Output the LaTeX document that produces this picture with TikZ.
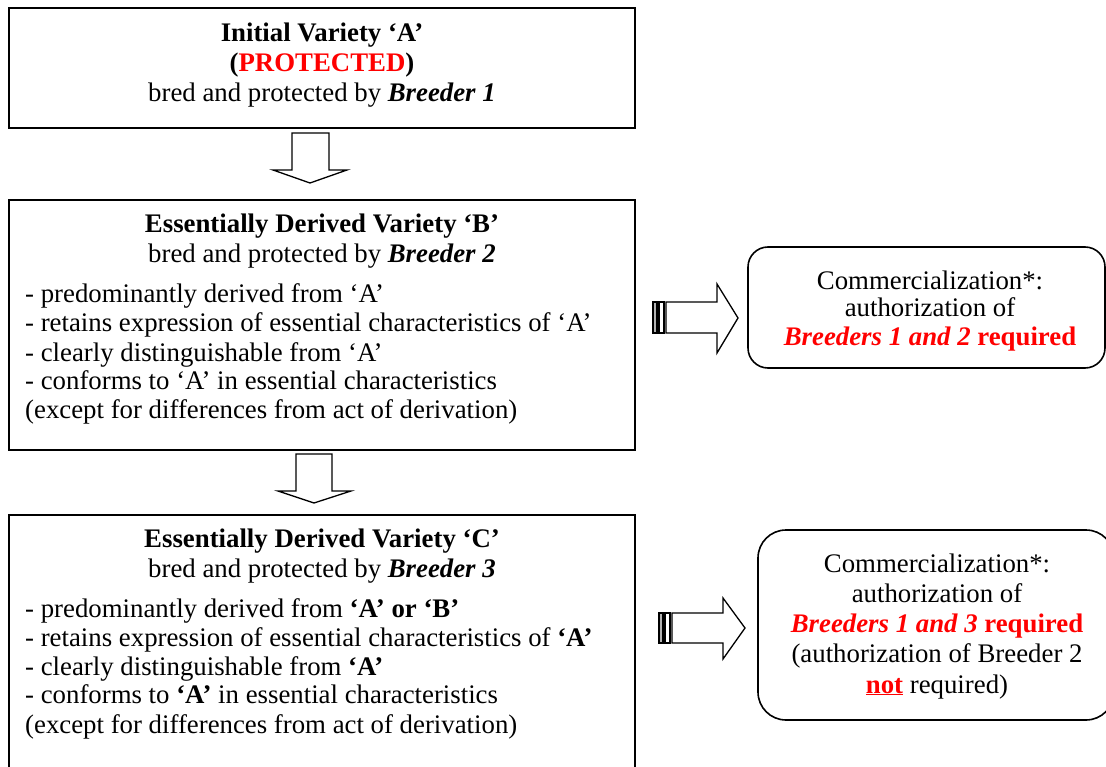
\documentclass[tikz,border=0pt]{standalone}
\usepackage{fontspec}
\setmainfont{Liberation Serif}
\definecolor{tred}{RGB}{255,0,0}
\begin{document}
\begin{tikzpicture}[x=1pt,y=-1pt,
  every node/.style={inner sep=0pt, font=\fontsize{26.8}{30}\selectfont},
  box/.style={draw, line width=2pt},
  rbox/.style={draw, line width=1.6pt, rounded corners=#1},
  rbox/.default=20pt,
  blk/.style={draw, line width=1.3pt, fill=white, line join=miter},
  ctext/.style={anchor=base},
  ltext/.style={anchor=base west}]
\useasboundingbox (0,0) rectangle (1106,767);
\clip (0,0) rectangle (1106,767);
\fill[white] (0,0) rectangle (1106,767);

% left boxes
\node[box, minimum width=626pt, minimum height=120pt] (b1) at (322,68) {};
\node[box, minimum width=626pt, minimum height=250pt] (b2) at (322,325) {};
\node[box, minimum width=626pt, minimum height=290pt] (b3) at (322,660) {};

% right boxes
\node[rbox=20pt, minimum width=357pt, minimum height=121pt] (r1) at (926.5,307.5) {};
\node[rbox=28pt, minimum width=356pt, minimum height=190pt] (r2) at (936,625) {};

% down arrows
\draw[blk] (292,133) -- (329,133) -- (329,170) -- (347,170) -- (310,183) -- (273,170) -- (292,170) -- cycle;
\draw[blk] (296,454) -- (332,454) -- (332,491) -- (351,491) -- (314,503) -- (278,491) -- (296,491) -- cycle;

% right striped arrows
\draw[blk, fill=gray!60] (653,302) rectangle (657,333);
\draw[blk] (659,302) rectangle (664,333);
\draw[blk] (666,302) -- (717,302) -- (717,284) -- (738,318) -- (717,353) -- (717,333) -- (666,333) -- cycle;

\draw[blk, fill=gray!60] (659,613) rectangle (663,643);
\draw[blk] (665,613) rectangle (670,643);
\draw[blk] (672,613) -- (723,613) -- (723,598) -- (745,628) -- (723,659) -- (723,643) -- (672,643) -- cycle;

% box 1 text
\node[ctext] (t1a) at (322,42) {\textbf{Initial Variety ‘A’}};
\node[ctext] (t1b) at (322,72) {\textbf{(\textcolor{tred}{PROTECTED})}};
\node[ctext] (t1c) at (322,102) {bred and protected by \textbf{\textit{Breeder 1}}};

% box 2 text
\node[ctext] (t2a) at (322,233) {\textbf{Essentially Derived Variety ‘B’}};
\node[ctext] (t2b) at (322,263) {bred and protected by \textbf{\textit{Breeder 2}}};
\node[ltext] (t2c) at (25,303) {- predominantly derived from ‘A’};
\node[ltext] (t2d) at (25,332) {- retains expression of essential characteristics of ‘A’};
\node[ltext] (t2e) at (25,361) {- clearly distinguishable from ‘A’};
\node[ltext] (t2f) at (25,389) {- conforms to ‘A’ in essential characteristics};
\node[ltext] (t2g) at (25,418) {(except for differences from act of derivation)};

% box 3 text
\node[ctext] (t3a) at (322,547) {\textbf{Essentially Derived Variety ‘C’}};
\node[ctext] (t3b) at (322,577) {bred and protected by \textbf{\textit{Breeder 3}}};
\node[ltext] (t3c) at (25,617) {- predominantly derived from \textbf{‘A’ or ‘B’}};
\node[ltext] (t3d) at (25,646) {- retains expression of essential characteristics of \textbf{‘A’}};
\node[ltext] (t3e) at (25,675) {- clearly distinguishable from \textbf{‘A’}};
\node[ltext] (t3f) at (25,703) {- conforms to \textbf{‘A’} in essential characteristics};
\node[ltext] (t3g) at (25,733) {(except for differences from act of derivation)};

% right box 1 text
\node[ctext] (u1a) at (930,290) {Commercialization*:};
\node[ctext] (u1b) at (930,317) {authorization of};
\node[ctext] (u1c) at (930,345) {\textcolor{tred}{\textbf{\textit{Breeders 1 and 2}} \textbf{required}}};

% right box 2 text
\node[ctext] (u2a) at (937,572) {Commercialization*:};
\node[ctext] (u2b) at (937,602) {authorization of};
\node[ctext] (u2c) at (937,632) {\textcolor{tred}{\textbf{\textit{Breeders 1 and 3}} \textbf{required}}};
\node[ctext] (u2d) at (937,662) {(authorization of Breeder 2};
\node[ctext] (u2e) at (937,693) {\textcolor{tred}{\underline{\textbf{not}}} required)};
\end{tikzpicture}
\end{document}
